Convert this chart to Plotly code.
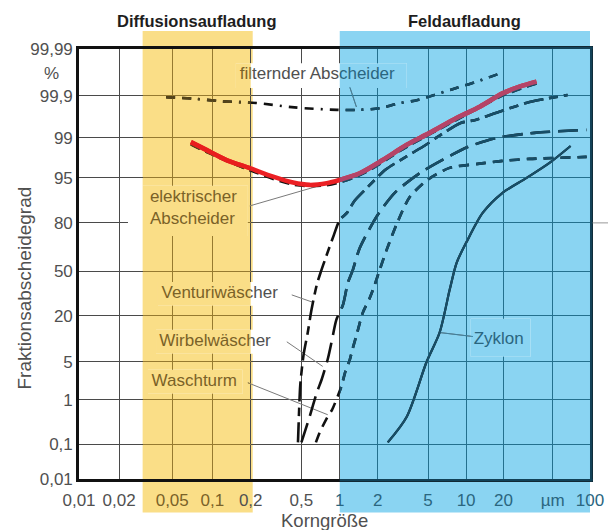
import numpy as np
import plotly.graph_objects as go
from statistics import NormalDist

# ---------------------------------------------------------------------------
# Fractional separation efficiency (%) versus particle size (µm)
# ---------------------------------------------------------------------------
size_filter = [0.045, 0.073, 0.119, 0.22, 0.44, 0.95, 1.4, 2.07, 2.87, 4.14, 6.4, 8.6, 12.2, 19.3]
eff_filter = [99.89, 99.88, 99.86, 99.845, 99.80, 99.77, 99.77, 99.79, 99.84, 99.87, 99.913, 99.931, 99.948, 99.966]

# electrostatic precipitator: printed dashed curve and the red marker line over it
size_esp_line = [0.069, 0.09, 0.197, 0.43, 0.79, 1.44, 3.37, 8.4, 19.7, 37]
eff_esp_line = [98.67, 98.16, 96.2, 93.63, 93.5, 95.45, 98.5, 99.6, 99.9, 99.943]
size_esp = [0.069, 0.09, 0.129, 0.197, 0.30, 0.43, 0.58, 0.79, 1.0, 1.44, 2.19, 3.37, 5.15, 8.4, 12.9, 19.7, 27, 37]
eff_esp = [98.79, 98.31, 97.44, 96.49, 95.22, 94.07, 93.57, 93.94, 94.63, 95.77, 97.44, 98.63, 99.22, 99.64, 99.808, 99.91, 99.934, 99.948]

size_venturi = [0.47, 0.48, 0.49, 0.52, 0.56, 0.60, 0.66, 0.71, 0.78, 0.90, 1.0, 1.14, 1.31, 1.67, 2.31, 3.33, 4.78, 5.95, 9.05, 11.9, 18.3, 32.5, 66]
eff_venturi = [0.11, 0.62, 1.98, 6.4, 12.7, 23.3, 39.9, 49.6, 59.9, 73.7, 81.5, 84.6, 89.2, 93.1, 96.3, 97.74, 98.63, 99.05, 99.53, 99.60, 99.74, 99.854, 99.903]

size_wirbel = [0.50, 0.58, 0.66, 0.72, 0.81, 0.87, 0.94, 1.06, 1.16, 1.27, 1.44, 2.0, 2.77, 4.45, 7.7, 10.3, 17.6, 35.7, 94]
eff_wirbel = [0.11, 0.44, 1.39, 2.46, 5.76, 10.4, 18.1, 26.3, 41.4, 51.0, 65.8, 83.8, 91.85, 95.97, 97.92, 98.51, 99.0, 99.22, 99.33]

size_turm = [0.65, 0.70, 0.81, 0.87, 0.96, 1.04, 1.10, 1.20, 1.27, 1.36, 1.52, 1.73, 1.89, 2.07, 2.35, 2.87, 3.58, 4.96, 7.4, 12.4, 19.7, 32.5, 94]
eff_turm = [0.11, 0.20, 0.46, 0.62, 1.15, 1.98, 3.27, 5.37, 8.07, 12.0, 21.6, 30.8, 39.9, 51.0, 64.55, 80.5, 90.4, 94.63, 96.53, 97.02, 97.35, 97.55, 97.74]

size_zyklon = [2.4, 3.39, 4.87, 6.17, 7.41, 8.41, 10.1, 13.6, 19.7, 30.8, 47.1, 69.7]
eff_zyklon = [0.11, 0.44, 5.0, 12.85, 36.3, 55.9, 69.6, 84.6, 91.6, 95.0, 97.13, 98.57]

X_TICKS = [0.01, 0.02, 0.05, 0.1, 0.2, 0.5, 1, 2, 5, 10, 20, 50, 100]
X_TICKTEXT = ["0,01", "0,02", "0,05", "0,1", "0,2", "0,5", "1", "2", "5", "10", "20", "µm", "100"]
Y_TICKS = [0.01, 0.1, 1, 5, 20, 50, 80, 95, 99, 99.9, 99.99]
Y_TICKTEXT = ["0,01", "0,1", "1", "5", "20", "50", "80", "95", "99", "99,9", "99,99"]

DIFFUSION_RANGE = [0.03, 0.2]
FIELD_RANGE = [1, 100]

# curve labels: text, anchor (µm, %), leader line start and end (µm, %), text box corners
LABELS = [
    ("filternder Abscheider", 0.164, 99.962, (1.2, 99.933), (1.355, 99.805), (0.153, 99.930, 3.39, 99.979)),
    ("elektrischer<br>Abscheider", 0.034, 86.45, (0.197, 87.4), (0.657, 93.2), (0.0233, 73.1, 0.19, 93.4)),
    ("Venturiwäscher", 0.0416, 33.5, (0.42, 32.8), (0.61, 28.0), (0.0391, 25.7, 0.384, 42.1)),
    ("Wirbelwäscher", 0.040, 9.84, (0.384, 9.75), (0.735, 4.2), (0.0378, 6.61, 0.333, 13.9)),
    ("Waschturm", 0.035, 2.26, (0.19, 2.16), (0.805, 0.487), (0.0329, 1.33, 0.173, 3.69)),
    ("Zyklon", 11.5, 10.4, (6.17, 12.85), (11.35, 11.44), (10.9, 5.97, 33.1, 18.6)),
]

# ---------------------------------------------------------------------------
# Ruling of the probability paper (logarithmic size axis, probit-type
# efficiency axis); positions of the printed decade / probability lines
# ---------------------------------------------------------------------------
X_DECADES = [0.01, 0.1, 1, 10, 100]
X_RULE = [0.0, 133.5, 261.0, 387.5, 511.5]
Y_RULE = [0.0, 35.0, 79.3, 117.3, 163.3, 207.8, 256.3, 301.3, 341.3, 383.6, 430.3]
W = X_RULE[-1]
H = Y_RULE[-1]
FRAME_W = 2.6

_nd = NormalDist()


def probit(p):
    return np.array([_nd.inv_cdf(v / 100.0) for v in np.atleast_1d(p)], dtype=float)


def sx(d):
    return np.interp(np.log10(np.atleast_1d(d).astype(float)), np.log10(X_DECADES), X_RULE)


def sy(p):
    return np.interp(probit(p), probit(Y_TICKS), Y_RULE)


FONT = "Liberation Sans, Arial, sans-serif"
YELLOW = "rgb(250,222,135)"
BLUE = "rgb(138,212,242)"

# ink colours on white paper and as they appear through the two coloured bands
PALETTES = {
    "plain": dict(xaxis="x", yaxis="y", ink="#111111", red="rgb(235,32,36)",
                  text="#505050", leader="#7a7a7a", grid="#4a4a4a", box="white"),
    "diffusion": dict(xaxis="x3", yaxis="y3", ink="rgb(84,68,26)", red="rgb(232,30,30)",
                      text="rgb(122,98,40)", leader="rgb(160,132,60)", grid="rgb(150,122,48)",
                      box=YELLOW, span=DIFFUSION_RANGE),
    "field": dict(xaxis="x2", yaxis="y2", ink="rgb(22,78,104)", red="rgb(180,68,104)",
                  text="rgb(42,102,128)", leader="rgb(60,128,158)", grid="rgb(36,112,142)",
                  box=BLUE, span=FIELD_RANGE, frame="rgb(18,66,88)"),
}


def region(d):
    if d >= FIELD_RANGE[0]:
        return "field"
    if DIFFUSION_RANGE[0] <= d < DIFFUSION_RANGE[1]:
        return "diffusion"
    return "plain"


fig = go.Figure()


def draw_all(pal):
    axes = dict(xaxis=pal["xaxis"], yaxis=pal["yaxis"])

    lx, ly = [], []
    for _, _, _, a, b, _ in LABELS:
        lx += [sx(a[0])[0], sx(b[0])[0], None]
        ly += [sy(a[1])[0], sy(b[1])[0], None]
    fig.add_trace(go.Scatter(x=lx, y=ly, mode="lines", line=dict(color=pal["leader"], width=1),
                             hoverinfo="skip", **axes))

    def curve(size, eff, color, width, dash="solid", smoothing=0.9):
        fig.add_trace(go.Scatter(
            x=sx(size), y=sy(eff), mode="lines",
            line=dict(color=color, width=width, dash=dash, shape="spline", smoothing=smoothing),
            hoverinfo="skip", **axes))

    ink = pal["ink"]
    curve(size_filter, eff_filter, ink, 2.6, "9px,7px,9px,7px,2px,7px")
    curve(size_esp_line, eff_esp_line, ink, 2.4, "10px,6px")
    curve(size_venturi, eff_venturi, ink, 2.6, "20px,6px,9px,6px", 0.7)
    curve(size_wirbel, eff_wirbel, ink, 2.6, "20px,8px", 0.7)
    curve(size_turm, eff_turm, ink, 2.6, "10px,7px", 0.7)
    curve(size_zyklon, eff_zyklon, ink, 2.2, "solid", 0.8)
    curve(size_esp, eff_esp, pal["red"], 4.6, "solid", 0.9)

    for text, x, y, _, _, _ in LABELS:
        fig.add_trace(go.Scatter(
            x=sx(x), y=sy(y), mode="text", text=[text], textposition="middle right",
            textfont=dict(family=FONT, size=17, color=pal["text"]),
            cliponaxis=(pal["xaxis"] != "x"), hoverinfo="skip", **axes))


for key in ["plain", "diffusion", "field"]:
    draw_all(PALETTES[key])

shapes = []
# coloured bands of the two charging regimes (also behind the tick labels)
for rng, colour in [(DIFFUSION_RANGE, YELLOW), (FIELD_RANGE, BLUE)]:
    shapes.append(dict(type="rect", xref="x", yref="paper", layer="below",
                       x0=sx(rng[0])[0], x1=sx(rng[1])[0] + 2, y0=-0.078, y1=1.042,
                       fillcolor=colour, line=dict(width=0)))
# boxes behind the labels interrupt the grid
for key, pal in PALETTES.items():
    for *_, box in LABELS:
        x0, y0, x1, y1 = box
        shapes.append(dict(type="rect", xref=pal["xaxis"], yref=pal["yaxis"], layer="between",
                           x0=sx(x0)[0], x1=sx(x1)[0], y0=sy(y0)[0], y1=sy(y1)[0],
                           fillcolor=pal["box"], line=dict(width=0)))
# the frame seen through the blue band
field = PALETTES["field"]
fx0 = sx(FIELD_RANGE[0])[0] / W
dx = FRAME_W / 2 / W
dy = FRAME_W / 2 / H
for y in (1 + dy, -dy):
    shapes.append(dict(type="line", xref="paper", yref="paper", layer="above",
                       x0=fx0, x1=1 + 2 * dx, y0=y, y1=y,
                       line=dict(color=field["frame"], width=FRAME_W)))
shapes.append(dict(type="line", xref="paper", yref="paper", layer="above",
                   x0=1 + dx, x1=1 + dx, y0=-2 * dy, y1=1 + 2 * dy,
                   line=dict(color=field["frame"], width=FRAME_W)))
# grey rule continuing the 80 % line beyond the frame
shapes.append(dict(type="line", xref="paper", yref="y", x0=1.0 + 2 * dx, x1=1.04,
                   y0=sy(80)[0], y1=sy(80)[0], line=dict(color="#999", width=1)))


def tinted(labels, values):
    out = []
    for lab, v in zip(labels, values):
        colour = PALETTES[region(v)]["text"]
        out.append(f'<span style="color:{colour}">{lab}</span>')
    return out


annotations = [
    dict(text="<b>Diffusionsaufladung</b>", xref="x", yref="paper",
         x=float(np.mean(sx(DIFFUSION_RANGE))), y=1.066, showarrow=False,
         xanchor="center", yanchor="middle", font=dict(family=FONT, size=16.5, color="#1e1e1e")),
    dict(text="<b>Feldaufladung</b>", xref="x", yref="paper",
         x=float(np.mean(sx(FIELD_RANGE))), y=1.066, showarrow=False,
         xanchor="center", yanchor="middle", font=dict(family=FONT, size=16.5, color="#1e1e1e")),
    dict(text="%", xref="paper", yref="paper", x=-0.053, y=0.9435, showarrow=False,
         xanchor="center", yanchor="middle", font=dict(family=FONT, size=17, color="#505050")),
    dict(text="Fraktionsabscheidegrad", xref="paper", yref="paper", x=-0.106, y=0.445,
         xanchor="center", yanchor="middle", textangle=-90, showarrow=False,
         font=dict(family=FONT, size=19, color="#505050")),
    dict(text="Korngröße", xref="paper", yref="paper", x=0.481, y=-0.0965, showarrow=False,
         xanchor="center", yanchor="middle", font=dict(family=FONT, size=18.5, color="#505050")),
]

plain = PALETTES["plain"]
main_axis = dict(showgrid=True, gridcolor=plain["grid"], gridwidth=1, zeroline=False,
                 showline=True, linecolor="#111", linewidth=FRAME_W, mirror=True, ticks="",
                 automargin=False, tickfont=dict(family=FONT, size=17, color="#505050"))

layout_axes = dict(
    xaxis=dict(main_axis, domain=[0, 1], range=[0, W], tickmode="array",
               tickvals=sx(X_TICKS), ticktext=tinted(X_TICKTEXT, X_TICKS), ticklabelstandoff=4),
    yaxis=dict(main_axis, domain=[0, 1], range=[Y_RULE[0], H], tickmode="array",
               tickvals=sy(Y_TICKS), ticktext=Y_TICKTEXT, ticklabelstandoff=0),
)

# the band subplots share the ruling and repaint grid and curves in the band ink
for key in ["diffusion", "field"]:
    pal = PALETTES[key]
    xa, xb = sx(pal["span"][0])[0], sx(pal["span"][1])[0]
    n = pal["xaxis"][1:]
    hidden = dict(showgrid=True, gridcolor=pal["grid"], gridwidth=1, zeroline=False,
                  showline=False, showticklabels=False, ticks="", automargin=False,
                  tickmode="array")
    layout_axes["xaxis" + n] = dict(hidden, domain=[xa / W, xb / W], range=[xa, xb],
                                    tickvals=sx(X_TICKS), anchor="y" + n)
    layout_axes["yaxis" + n] = dict(hidden, domain=[0, 1], range=[Y_RULE[0], H],
                                    tickvals=sy(Y_TICKS), anchor="x" + n)

fig.update_layout(
    width=608, height=530,
    margin=dict(l=79, r=17.5, t=49, b=50.7, pad=0, autoexpand=False),
    paper_bgcolor="white", plot_bgcolor="rgba(0,0,0,0)",
    showlegend=False,
    font=dict(family=FONT, color="#505050"),
    shapes=shapes, annotations=annotations,
    **layout_axes,
)

fig.write_html("out.html")
